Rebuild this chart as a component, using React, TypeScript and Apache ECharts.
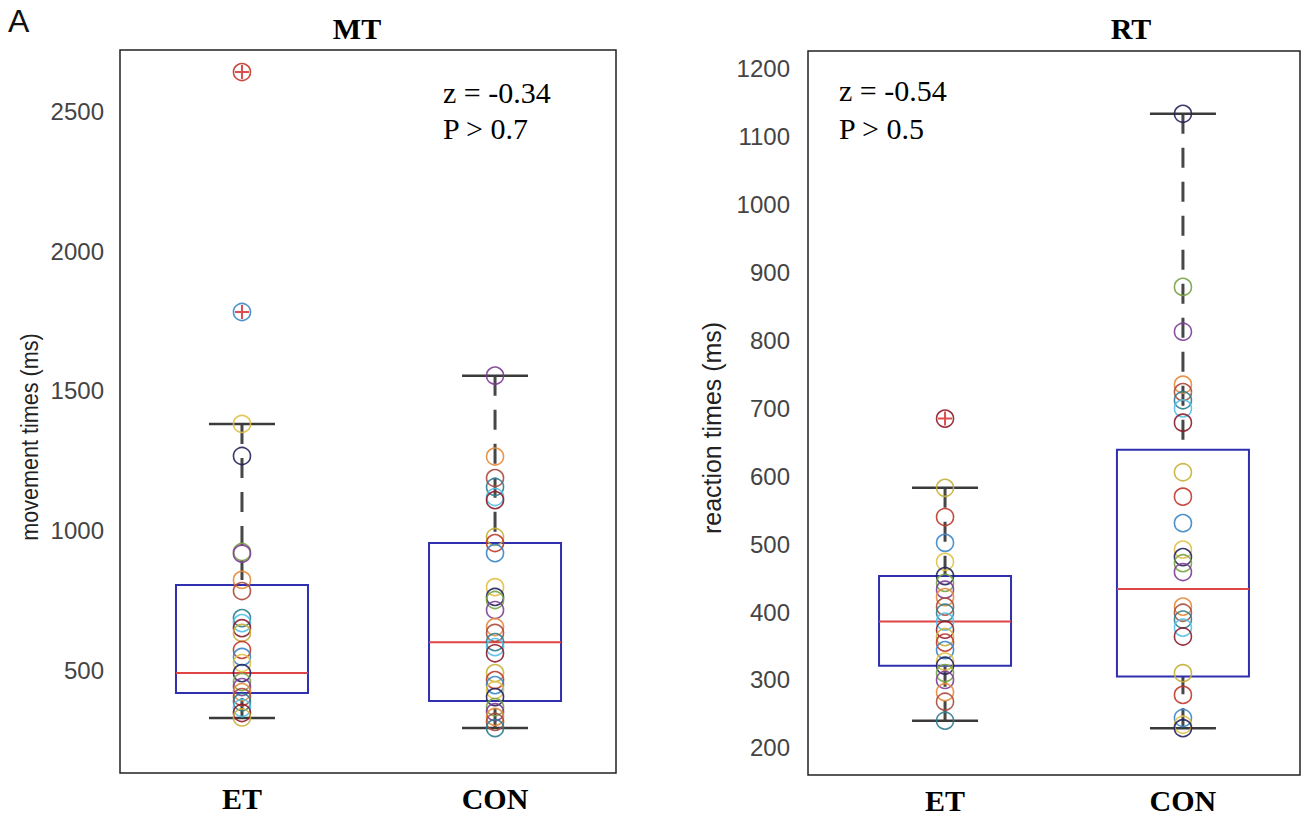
import React, { useEffect, useRef } from "react";
import * as echarts from "echarts";

// ---------- data ----------
const categories = ["ET", "CON"];
const mtTicks = [500, 1000, 1500, 2000, 2500];
const rtTicks = [200, 300, 400, 500, 600, 700, 800, 900, 1000, 1100, 1200];

// [min, Q1, median, Q3, max]
const mtBoxStats = [
  [328, 418, 489, 805, 1382],
  [292, 389, 600, 955, 1555],
];
const rtBoxStats = [
  [240, 321, 386, 453, 583],
  [229, 305, 434, 639, 1134],
];

const mtEtPoints = [2643, 1783, 1382, 1267, 923, 917, 823, 783, 686, 668, 650, 633, 572, 547, 525, 489, 457, 439, 421, 403, 385, 364, 346, 330];
const mtConPoints = [1555, 1265, 1188, 1156, 1120, 1109, 977, 955, 919, 797, 762, 751, 715, 654, 633, 600, 582, 560, 489, 464, 446, 428, 403, 367, 349, 332, 314, 292];
const rtEtPoints = [685, 583, 540, 502, 474, 453, 443, 433, 422, 408, 399, 386, 374, 363, 355, 344, 327, 321, 310, 300, 282, 268, 240];
const rtConPoints = [1134, 879, 813, 735, 724, 712, 700, 679, 606, 570, 531, 492, 481, 472, 459, 408, 399, 389, 377, 364, 310, 278, 244, 234, 229];

const mtEtOutliers = [2643, 1783];
const mtConOutliers: number[] = [];
const rtEtOutliers = [685];
const rtConOutliers: number[] = [];

// ---------- style ----------
const palette = ["#c0392b", "#3a86c8", "#e2c048", "#23235e", "#78a446", "#7d3e93", "#e5893a", "#a84a3c", "#2e7d8e", "#52bfe6", "#8c1c2c", "#c7b13b"];

function pointData(values: number[], x: number, offset: number) {
  return values.map((v, i) => ({
    value: [x, v],
    itemStyle: { borderColor: palette[(i + offset) % palette.length] },
  }));
}

function boxRender(params: any, api: any) {
  const x = api.value(0);
  const c = (v: number) => api.coord([x, v]);
  const [cx, yMin] = c(api.value(1));
  const yQ1 = c(api.value(2))[1];
  const yMed = c(api.value(3))[1];
  const yQ3 = c(api.value(4))[1];
  const yMax = c(api.value(5))[1];
  const bw = 66;
  const cw = 33;
  const whisker = { stroke: "#474747", lineWidth: 3, lineDash: [20, 14] };
  const cap = { stroke: "#3a3a3a", lineWidth: 2.5 };
  return {
    type: "group",
    children: [
      { type: "line", shape: { x1: cx, y1: yMax, x2: cx, y2: yQ3 }, style: whisker },
      { type: "line", shape: { x1: cx, y1: yMin, x2: cx, y2: yQ1 }, style: whisker },
      { type: "line", shape: { x1: cx - cw, y1: yMax, x2: cx + cw, y2: yMax }, style: cap },
      { type: "line", shape: { x1: cx - cw, y1: yMin, x2: cx + cw, y2: yMin }, style: cap },
      {
        type: "rect",
        shape: { x: cx - bw, y: yQ3, width: bw * 2, height: yQ1 - yQ3 },
        style: { fill: "none", stroke: "#2f2fb0", lineWidth: 2 },
      },
      { type: "line", shape: { x1: cx - bw, y1: yMed, x2: cx + bw, y2: yMed }, style: { stroke: "#e04545", lineWidth: 2 } },
    ],
  };
}

const plusSymbol = "path://M0,-10 L0,10 M-10,0 L10,0";

function panelSeries(idx: number, stats: number[][], etPts: number[], conPts: number[], etOut: number[], conOut: number[], offs: number[]) {
  return [
    {
      type: "custom",
      xAxisIndex: idx,
      yAxisIndex: idx,
      renderItem: boxRender,
      data: stats.map((s, i) => [i + 1, ...s]),
      encode: { x: 0, y: [1, 2, 3, 4, 5] },
      z: 2,
      silent: true,
    },
    {
      type: "scatter",
      xAxisIndex: idx,
      yAxisIndex: idx,
      symbol: "circle",
      symbolSize: 17,
      itemStyle: { color: "rgba(0,0,0,0)", borderWidth: 1.6, opacity: 0.9 },
      data: [...pointData(etPts, 1, offs[0]), ...pointData(conPts, 2, offs[1])],
      z: 3,
      silent: true,
    },
    {
      type: "scatter",
      xAxisIndex: idx,
      yAxisIndex: idx,
      symbol: plusSymbol,
      symbolSize: 14,
      itemStyle: { color: "rgba(0,0,0,0)", borderColor: "#d42020", borderWidth: 2 },
      data: [...etOut.map((v) => [1, v]), ...conOut.map((v) => [2, v])],
      z: 4,
      silent: true,
    },
  ];
}

const tickLabel = {
  fontFamily: "Liberation Sans, Arial, sans-serif",
  fontSize: 24,
  color: "#444",
  formatter: (v: number) => String(v),
};
const catLabel = {
  fontFamily: "Liberation Serif, Times New Roman, serif",
  fontWeight: "bold",
  fontSize: 30,
  color: "#000",
};
const serifText = "Liberation Serif, Times New Roman, serif";
const sansText = "Liberation Sans, Arial, sans-serif";

export default function App() {
  const ref = useRef<HTMLDivElement>(null);
  useEffect(() => {
    if (!ref.current) return;
    const chart = echarts.init(ref.current, undefined, { renderer: "svg" });
    const xAxisCommon = {
      type: "value",
      axisLine: { show: false },
      axisTick: { show: false },
      splitLine: { show: false },
      axisLabel: {
        ...catLabel,
        margin: 10,
        customValues: [1, 2],
        formatter: (v: number) => categories[Math.round(v) - 1] ?? "",
      },
    };
    const yAxisCommon = {
      type: "value",
      axisLine: { show: false },
      axisTick: { show: false },
      splitLine: { show: false },
    };
    chart.setOption({
      animation: false,
      backgroundColor: "#fff",
      grid: [
        { left: 120, top: 50, width: 496, height: 723, show: true, borderColor: "#222", borderWidth: 1.5, backgroundColor: "transparent" },
        { left: 808, top: 51, width: 492, height: 724, show: true, borderColor: "#222", borderWidth: 1.5, backgroundColor: "transparent" },
      ],
      xAxis: [
        { ...xAxisCommon, gridIndex: 0, min: 0.518, max: 2.478 },
        { ...xAxisCommon, gridIndex: 1, min: 0.424, max: 2.492 },
      ],
      yAxis: [
        { ...yAxisCommon, gridIndex: 0, min: 131, max: 2722, axisLabel: { ...tickLabel, margin: 16, customValues: mtTicks } },
        { ...yAxisCommon, gridIndex: 1, min: 160, max: 1226.5, axisLabel: { ...tickLabel, margin: 18, customValues: rtTicks } },
      ],
      series: [
        ...panelSeries(0, mtBoxStats, mtEtPoints, mtConPoints, mtEtOutliers, mtConOutliers, [0, 5]),
        ...panelSeries(1, rtBoxStats, rtEtPoints, rtConPoints, rtEtOutliers, rtConOutliers, [10, 3]),
      ],
      graphic: [
        { type: "text", left: 8, top: 5, style: { text: "A", font: `32px ${sansText}`, fill: "#111" } },
        { type: "text", x: 357, y: 28, style: { text: "MT", font: `bold 30px ${serifText}`, fill: "#000", align: "center", verticalAlign: "middle" } },
        { type: "text", x: 1131, y: 28, style: { text: "RT", font: `bold 30px ${serifText}`, fill: "#000", align: "center", verticalAlign: "middle" } },
        { type: "text", x: 443, y: 92, style: { text: "z = -0.34", font: `30px ${serifText}`, fill: "#000", align: "left", verticalAlign: "middle" } },
        { type: "text", x: 443, y: 128, style: { text: "P > 0.7", font: `30px ${serifText}`, fill: "#000", align: "left", verticalAlign: "middle" } },
        { type: "text", x: 839, y: 90, style: { text: "z = -0.54", font: `30px ${serifText}`, fill: "#000", align: "left", verticalAlign: "middle" } },
        { type: "text", x: 839, y: 128, style: { text: "P > 0.5", font: `30px ${serifText}`, fill: "#000", align: "left", verticalAlign: "middle" } },
        { type: "text", x: 30, y: 437, rotation: Math.PI / 2, scaleX: 0.9, style: { text: "movement times (ms)", font: `24px ${sansText}`, fill: "#222", align: "center", verticalAlign: "middle" } },
        { type: "text", x: 712, y: 428, rotation: Math.PI / 2, scaleX: 0.96, style: { text: "reaction times (ms)", font: `26px ${sansText}`, fill: "#222", align: "center", verticalAlign: "middle" } },
      ],
    });
    return () => chart.dispose();
  }, []);
  return <div ref={ref} style={{ position: "fixed", left: 0, top: 0, width: 1310, height: 821 }} />;
}
